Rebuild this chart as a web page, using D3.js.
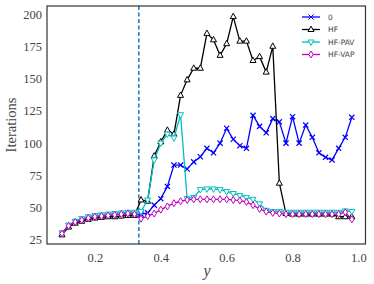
<!DOCTYPE html>
<html><head><meta charset="utf-8">
<script src="https://cdn.jsdelivr.net/npm/d3@7"></script>
<style>body{margin:0;background:#fff}svg{display:block}</style>
</head><body>
<script>
const xs = d3.range(45).map(i => +(0.10 + 0.02*i).toFixed(2));
const s0 = [30,36,39,40.5,42,43,43.5,44,44.5,45,45.5,45,45,46,52,57,66.5,83,83,80,85.5,89.5,96,92.5,100,111.5,103,98,96,121.5,113,108,119,116.5,100,120.5,100,114,104.5,92.5,89,87,96,104.5,120];
const sHF = [29,35,38,39.5,41,42,42.5,43,43,43.5,44,44,56,55,90,101,110,107,137,149,158,158,185,180,168,177,198,179,179,164,167,155,175,69,45.5,45,45,45,45,45,45,45,43,43,43];
const sPAV = [30.5,36.5,39.5,41.5,43,44,44.5,45,45.5,46,46.5,46.5,47,56,87,100,107,104,122,57,58,64,64.5,64.5,64,62.5,61,59.5,58,56.5,53,48,47,47,46.5,46.5,46.5,46.5,46.5,46.5,46.5,46.5,46.5,47.5,47];
const sVAP = [30,36,39,40.5,42,43,43.5,44,44.5,45,45.5,45,41.5,43.5,45.5,48.5,51,53.5,55,56,56.5,56.5,56.5,56.5,56.5,56.5,56,55.5,54.5,52,49,47,46,45.5,45,45,45,45,45,45,45,45,45,46.5,41];
const seriesNames = ["0","HF","HF-PAV","HF-VAP"];
const seriesData = [s0, sHF, sPAV, sVAP];
const colors = ["#0000ff","#000000","#00bfbf","#bf00bf"];
const markers = ["x","tri-up","tri-down","diamond"];
const xTicks = [0.2,0.4,0.6,0.8,1.0];
const yTicks = [25,50,75,100,125,150,175,200];
const vline = 1/3;

const W=374,H=284;
const svg = d3.select("body").append("svg").attr("width",W).attr("height",H);
const x = d3.scaleLinear().domain([0.0545,1.0215]).range([47,365.5]);
const y = d3.scaleLinear().domain([21.9,206.2]).range([244,6]);
const serif = "'Liberation Serif','DejaVu Serif',serif";

// axes tick labels (no tick marks)
const xa = svg.append("g").attr("transform","translate(0,244)")
  .call(d3.axisBottom(x).tickValues(xTicks).tickFormat(d3.format(".1f")).tickSize(0).tickPadding(9));
const ya = svg.append("g").attr("transform","translate(47,0)")
  .call(d3.axisLeft(y).tickValues(yTicks).tickFormat(d3.format("d")).tickSize(0).tickPadding(5));
[xa,ya].forEach(a=>{a.select(".domain").remove();
  a.selectAll("text").attr("font-family",serif).attr("font-size",12.5).attr("fill","#444");});

// dashed line
svg.append("line").attr("x1",x(vline)).attr("x2",x(vline)).attr("y1",6).attr("y2",244)
  .attr("stroke","#1f77b4").attr("stroke-width",1.5).attr("stroke-dasharray","4,2.5");

function markerPath(type){
  if(type==="x") return "M-2.6,-2.6L2.6,2.6M-2.6,2.6L2.6,-2.6";
  if(type==="tri-up") return "M0,-3.4L3,2L-3,2Z";
  if(type==="tri-down") return "M0,3.4L3,-2L-3,-2Z";
  return "M0,-3.5L2.2,0L0,3.5L-2.2,0Z";
}
const line = d3.line().x((d,i)=>x(xs[i])).y(d=>y(d));
seriesData.forEach((data,k)=>{
  const g = svg.append("g");
  g.append("path").datum(data).attr("d",line).attr("fill","none")
    .attr("stroke",colors[k]).attr("stroke-width",1.3);
  g.selectAll("path.m").data(data).join("path").attr("class","m")
    .attr("transform",(d,i)=>`translate(${x(xs[i])},${y(d)})`)
    .attr("d",markerPath(markers[k]))
    .attr("fill",markers[k]==="x"?"none":"#fff")
    .attr("stroke",colors[k]).attr("stroke-width",markers[k]==="x"?1.2:1);
});

// frame
svg.append("rect").attr("x",47).attr("y",6).attr("width",318.5).attr("height",238)
  .attr("fill","none").attr("stroke","#333").attr("stroke-width",1.2);

// legend
const lg = svg.append("g");
seriesNames.forEach((n,k)=>{
  const yy = 17 + k*12.5;
  lg.append("line").attr("x1",302).attr("x2",320).attr("y1",yy).attr("y2",yy)
    .attr("stroke",colors[k]).attr("stroke-width",1.3);
  lg.append("path").attr("transform",`translate(311,${yy})`).attr("d",markerPath(markers[k]))
    .attr("fill",markers[k]==="x"?"none":"#fff").attr("stroke",colors[k]).attr("stroke-width",1);
  lg.append("text").attr("x",328).attr("y",yy+2.6).text(n)
    .attr("font-family","'DejaVu Sans',sans-serif").attr("font-size",7.5).attr("fill","#444");
});

// axis labels
svg.append("text").attr("x",207).attr("y",276).attr("text-anchor","middle")
  .attr("font-family",serif).attr("font-style","italic").attr("font-size",16).attr("fill","#444").text("y");
svg.append("text").attr("transform","translate(16,125) rotate(-90)").attr("text-anchor","middle")
  .attr("font-family",serif).attr("font-size",14.5).attr("fill","#444").text("Iterations");
</script>
</body></html>
